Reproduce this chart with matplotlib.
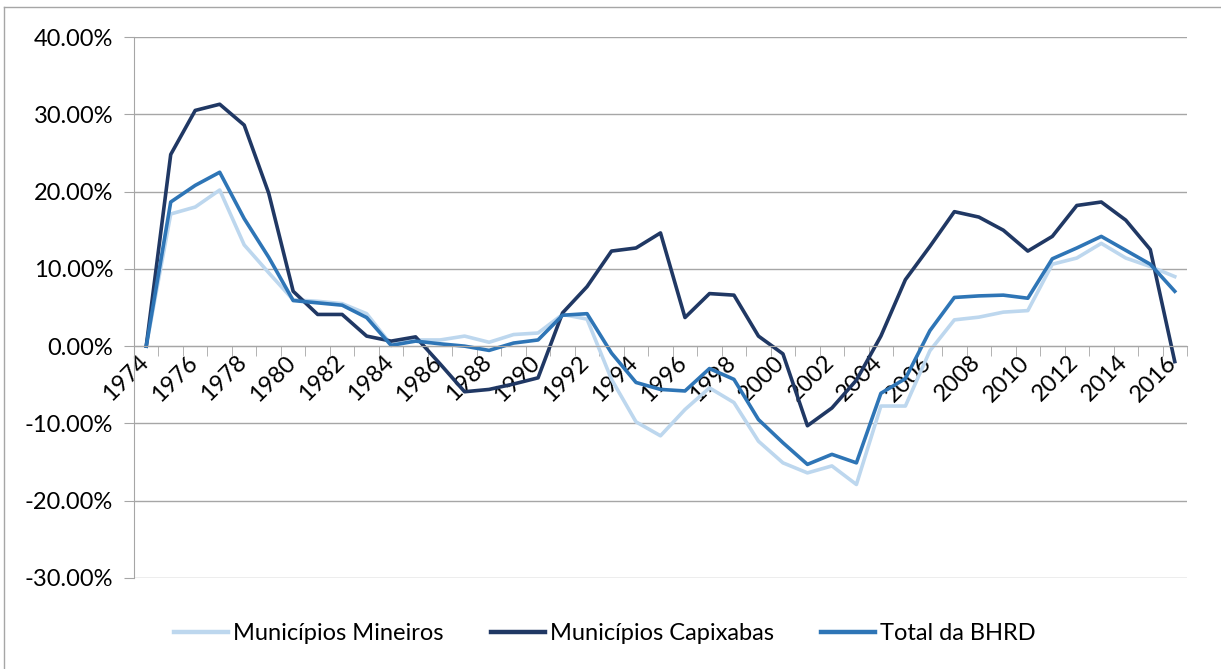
import matplotlib
matplotlib.use('Agg')
import matplotlib.pyplot as plt
from matplotlib.lines import Line2D
from matplotlib.ticker import FuncFormatter
from matplotlib.transforms import ScaledTranslation
import numpy as np

years = list(range(1974, 2017))

# Variação anual (%)
mineiros = [0.0, 17.1, 18.0, 20.2, 13.1, 9.5, 6.0, 5.8, 5.5, 4.2, 0.2, 0.8,
            0.8, 1.3, 0.5, 1.5, 1.7, 4.1, 3.5, -4.3, -9.8, -11.6, -8.2, -5.4,
            -7.3, -12.3, -15.1, -16.4, -15.5, -17.9, -7.75, -7.75, -0.6, 3.4,
            3.75, 4.4, 4.6, 10.6, 11.4, 13.3, 11.4, 10.3, 9.0]
capixabas = [0.0, 24.8, 30.5, 31.3, 28.6, 19.8, 7.1, 4.1, 4.1, 1.3, 0.65, 1.2,
             -2.3, -5.9, -5.6, -4.9, -4.1, 4.3, 7.7, 12.3, 12.7, 14.65, 3.7, 6.8,
             6.6, 1.3, -1.0, -10.3, -8.0, -4.4, 1.3, 8.6, 12.9, 17.4,
             16.7, 15.0, 12.3, 14.2, 18.2, 18.65, 16.3, 12.5, -2.0]
total_bhrd = [0.0, 18.65, 20.8, 22.5, 16.5, 11.5, 5.9, 5.6, 5.3, 3.7, 0.1, 0.65,
              0.3, 0.0, -0.55, 0.4, 0.8, 4.0, 4.2, -0.9, -4.7, -5.6, -5.8, -2.9,
              -4.3, -9.5, -12.5, -15.3, -14.0, -15.1, -6.1, -4.2, 2.0, 6.3,
              6.5, 6.6, 6.2, 11.3, 12.7, 14.2, 12.4, 10.6, 7.1]

series_names = ['Municípios Mineiros', 'Municípios Capixabas', 'Total da BHRD']
colors = ['#BDD7EE', '#203864', '#2E75B6']

plt.rcParams['font.family'] = ['Lato', 'DejaVu Sans']
fsize = 17

fig = plt.figure(figsize=(12.21, 6.69), dpi=100)
W, H = 1221, 669
ax = fig.add_axes([134 / W, 1 - 578 / H, (1187 - 134) / W, (578 - 37) / H])

x = np.arange(len(years))
for vals, name, col in zip([mineiros, capixabas, total_bhrd], series_names, colors):
    ax.plot(x, vals, color=col, lw=2.6, label=name, solid_joinstyle='round')

ax.set_xlim(-0.5, len(years) - 0.5)
ax.set_ylim(-30, 40)
ax.set_yticks(np.arange(-30, 41, 10))
ax.yaxis.set_major_formatter(FuncFormatter(lambda v, p: f'{v:.2f}%'))
ax.grid(axis='y', color='#A6A6A6', lw=1)
ax.set_axisbelow(True)

for s in ['top', 'right']:
    ax.spines[s].set_visible(False)
ax.spines['left'].set_color('#A6A6A6')
ax.spines['bottom'].set_position(('data', 0))
ax.spines['bottom'].set_color('#A6A6A6')

ax.tick_params(axis='y', colors='#A6A6A6', labelcolor='black', length=7,
               labelsize=fsize, pad=8)

# category labels every 2 years, boundaries as minor ticks
ax.set_xticks(x[::2])
ax.set_xticklabels([str(y) for y in years[::2]])
ax.set_xticks(np.arange(-0.5, len(years)), minor=True)
ax.tick_params(axis='x', which='major', length=0, labelsize=fsize, pad=4)
ax.tick_params(axis='x', which='minor', length=7, color='#A6A6A6')
shift = ScaledTranslation(6 / 100, 0, fig.dpi_scale_trans)
for lab in ax.get_xticklabels():
    lab.set_rotation(45)
    lab.set_ha('right')
    lab.set_va('top')
    lab.set_transform(lab.get_transform() + shift)

leg = fig.legend(loc='center', bbox_to_anchor=(605 / W, 1 - 634 / H), ncol=3,
                 frameon=False, fontsize=fsize, handlelength=2.3,
                 handletextpad=0.2, columnspacing=2.0)
for h in leg.get_lines():
    h.set_linewidth(3.2)

# chart border
fig.add_artist(Line2D([4 / W, 4 / W], [0, 1 - 7 / H], color='#A6A6A6', lw=1,
                      transform=fig.transFigure))
fig.add_artist(Line2D([4 / W, 1], [1 - 7 / H, 1 - 7 / H], color='#A6A6A6',
                      lw=1, transform=fig.transFigure))

plt.savefig('out.png', dpi=100)
plt.close()
